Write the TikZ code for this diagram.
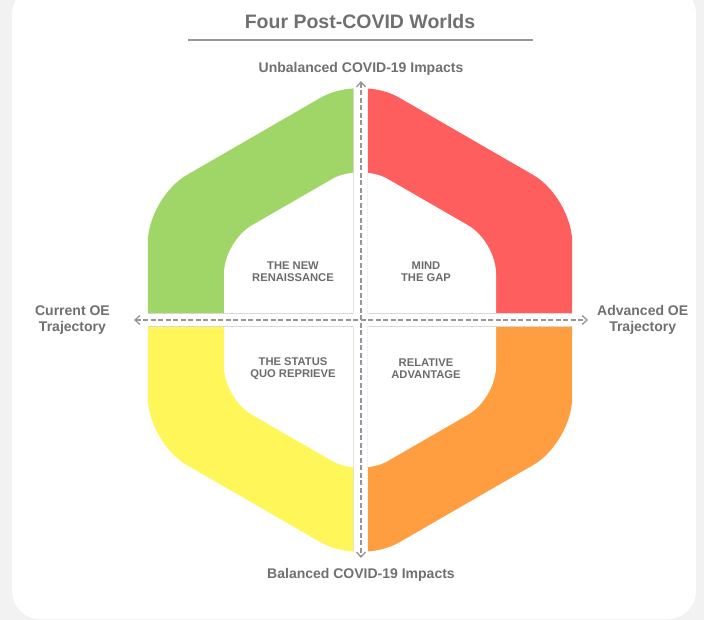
\documentclass[tikz,border=0pt]{standalone}
\usepackage{fontspec}
\setmainfont{Liberation Sans}
\usetikzlibrary{positioning,arrows.meta}

\definecolor{wgreen}{RGB}{160,214,104}
\definecolor{wred}{RGB}{255,94,94}
\definecolor{wyellow}{RGB}{255,246,90}
\definecolor{worange}{RGB}{255,158,64}
\definecolor{labelgray}{RGB}{112,112,112}
\definecolor{worldgray}{RGB}{108,108,108}
\definecolor{axisgray}{RGB}{150,150,150}
\definecolor{pagegray}{RGB}{242,242,242}

% hexagon outlines (pixel units, y pointing down)
\newcommand{\outerhex}{(147.8,320) -- (147.8,197.5) -- (360,75) -- (572.2,197.5) -- (572.2,442.5) -- (360,565) -- (147.8,442.5) -- cycle}
\newcommand{\innerhex}{(224,320) -- (224,241.5) -- (360,163) -- (496,241.5) -- (496,398.5) -- (360,477) -- (224,398.5) -- cycle}

\begin{document}
\begin{tikzpicture}[
    x=1pt, y=-1pt,
    >={Straight Barb[length=5pt,width=9pt]},
    axis/.style={
        draw=axisgray,
        line width=1.3pt,
        dash pattern=on 5pt off 2.5pt,
        <->
    },
    axislabel/.style={
        text=labelgray,
        font=\fontsize{14}{16}\selectfont\bfseries,
        align=center,
        inner sep=0pt
    },
    world/.style={
        text=worldgray,
        font=\fontsize{11.2}{12}\selectfont\bfseries,
        align=center,
        inner sep=0pt
    },
    tile/.style={
        draw=black!15,
        line width=1.2pt
    }
]
\useasboundingbox (0,0) rectangle (704,620);

% Card
\fill[pagegray] (0,0) rectangle (704,620);
\fill[white, rounded corners=28pt] (12,-14) rectangle (696,619);

% Title
\node[text=labelgray, font=\fontsize{19.5}{22}\selectfont\bfseries, inner sep=0pt] (title) at (360,22) {Four Post-COVID Worlds};
\draw[axisgray, line width=1.5pt] (188,40) -- (533,40);

% Quadrants
\begin{scope}
    \clip (0,0) rectangle (353.5,313.5);
    \clip[rounded corners=45pt] \outerhex;
    \fill[wgreen] (0,0) rectangle (353.5,313.5);
    \fill[white, rounded corners=32pt] \innerhex;
    \draw[tile] (0,0) rectangle (353.5,313.5);
\end{scope}

\begin{scope}
    \clip (367.5,0) rectangle (704,313.5);
    \clip[rounded corners=45pt] \outerhex;
    \fill[wred] (367.5,0) rectangle (704,313.5);
    \fill[white, rounded corners=32pt] \innerhex;
    \draw[tile] (367.5,0) rectangle (704,313.5);
\end{scope}

\begin{scope}
    \clip (0,326.5) rectangle (353.5,620);
    \clip[rounded corners=45pt] \outerhex;
    \fill[wyellow] (0,326.5) rectangle (353.5,620);
    \fill[white, rounded corners=32pt] \innerhex;
    \draw[tile] (0,326.5) rectangle (353.5,620);
\end{scope}

\begin{scope}
    \clip (367.5,326.5) rectangle (704,620);
    \clip[rounded corners=45pt] \outerhex;
    \fill[worange] (367.5,326.5) rectangle (704,620);
    \fill[white, rounded corners=32pt] \innerhex;
    \draw[tile] (367.5,326.5) rectangle (704,620);
\end{scope}

% Axis ends
\coordinate (ytop) at (361,81);
\coordinate (ybot) at (361,558);
\coordinate (xleft) at (134,320);
\coordinate (xright) at (588,320);

% Axes
\draw[axis] (ytop) -- (ybot);
\draw[axis] (xleft) -- (xright);

% Axis labels
\node[axislabel, above=5pt of ytop] (unbalanced) {Unbalanced COVID-19 Impacts};
\node[axislabel, below=10pt of ybot] (balanced) {Balanced COVID-19 Impacts};
\node[axislabel, left=24pt of xleft] (current) {Current OE\\Trajectory};
\node[axislabel, right=9pt of xright] (advanced) {Advanced OE\\Trajectory};

% Worlds
\node[world] (renaissance) at (293,272) {THE NEW\\RENAISSANCE};
\node[world] (mindgap) at (426,272) {MIND\\THE GAP};
\node[world] (statusquo) at (293,368.5) {THE STATUS\\QUO REPRIEVE};
\node[world] (relative) at (426,368.5) {RELATIVE\\ADVANTAGE};

\end{tikzpicture}
\end{document}
